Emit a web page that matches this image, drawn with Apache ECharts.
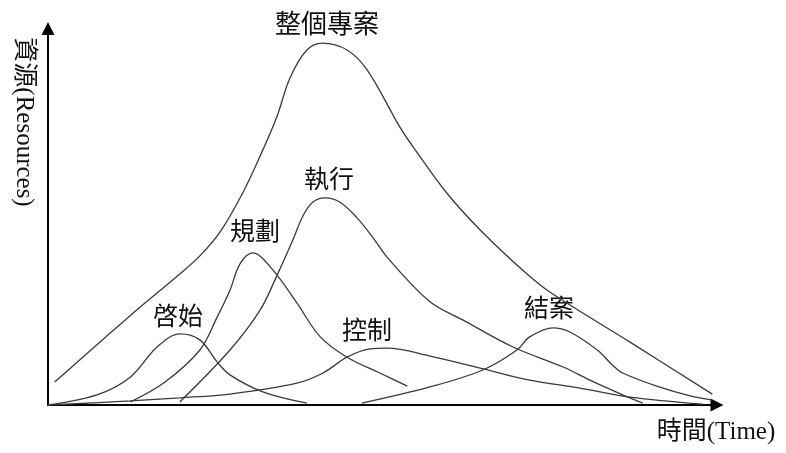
<!DOCTYPE html>
<html>
<head>
<meta charset="utf-8">
<script src="https://cdn.jsdelivr.net/npm/echarts@6/dist/echarts.min.js"></script>
<style>
html,body{margin:0;padding:0;background:#fff;}
#chart{width:786px;height:453px;}
</style>
</head>
<body>
<div id="chart"></div>
<script>
// Phase names (labels)
const phaseNames = ['整個專案', '啓始', '規劃', '執行', '控制', '結案'];
const axisTitleX = '時間(Time)';
const axisTitleY = '資源(Resources)';

// Time (0-100) and resource (0-100) readings for each curve
const overallTime = [1.0, 12.7, 19.7, 22.7, 25.7, 29.1, 32.1, 34.2, 36.2, 38.7, 41.0, 44.7, 47.7, 52.6, 54.6, 59.6, 64.6, 71.4, 75.0, 87.0, 99.3];
const overallRes  = [6.1, 24.4, 34.8, 39.6, 45.9, 56.3, 67.7, 76.5, 87.0, 94.3, 96.1, 94.3, 89.0, 73.8, 68.5, 56.3, 46.5, 35.1, 30.0, 16.7, 2.9];

const initTime = [0, 7.3, 12.3, 16.3, 19.7, 22.7, 25.3, 27.2, 32.1, 38.7];
const initRes  = [0, 2.7, 7.4, 15.4, 18.9, 17.3, 11.4, 8.0, 3.5, 0.5];

const planTime = [12.3, 17.5, 22.7, 25.3, 27.2, 28.7, 30.6, 33.6, 37.2, 40.7, 44.7, 49.6, 53.7];
const planRes  = [0.8, 6.1, 14.6, 23.4, 30.5, 37.5, 40.4, 35.9, 27.1, 18.1, 12.7, 8.5, 5.0];

const execTime = [19.7, 27.2, 31.7, 34.2, 36.6, 38.1, 39.6, 41.4, 43.6, 46.2, 48.6, 50.8, 57.1, 62.0, 69.5, 77.0, 81.0, 85.9, 88.9];
const execRes  = [0.8, 14.6, 25.2, 34.3, 43.8, 50.2, 53.9, 55.0, 53.9, 49.7, 44.4, 39.0, 27.4, 22.6, 15.4, 10.1, 6.6, 2.7, 0.5];

const ctrlTime = [0, 12.3, 19.7, 27.2, 37.2, 41.1, 44.7, 48.1, 50.7, 57.1, 64.6, 72.0, 79.5, 87.0, 97.9];
const ctrlRes  = [0, 1.1, 1.9, 2.9, 5.8, 8.5, 12.7, 14.9, 15.1, 13.0, 9.8, 6.6, 4.5, 2.1, 0.2];

const closeTime = [46.9, 57.1, 65.0, 70.1, 72.0, 75.5, 78.0, 82.1, 84.5, 85.9, 91.0, 96.0, 99.3];
const closeRes  = [0.5, 4.8, 9.3, 14.6, 18.1, 20.5, 19.4, 14.6, 10.4, 8.5, 5.0, 2.4, 1.3];

const curves = [
  [overallTime, overallRes],
  [initTime, initRes],
  [planTime, planRes],
  [execTime, execRes],
  [ctrlTime, ctrlRes],
  [closeTime, closeRes]
];

const zip = (xs, ys) => xs.map((x, i) => [x, ys[i]]);

const FONT = "'Liberation Serif', 'Noto Sans CJK TC', serif";
const labelPos = [
  [327, 26], [178, 318], [255, 233], [329, 181], [367, 332], [549, 310]
];

const chart = echarts.init(document.getElementById('chart'), null, {renderer: 'canvas'});
const option = {
  animation: false,
  backgroundColor: '#ffffff',
  grid: {left: 48, right: 69, top: 28.5, bottom: 48, containLabel: false},
  xAxis: {
    type: 'value', min: 0, max: 100,
    axisLine: {show: true, onZero: false, lineStyle: {color: '#000', width: 2},
      symbol: ['none', 'triangle'], symbolSize: [13, 13]},
    axisTick: {show: false}, axisLabel: {show: false}, splitLine: {show: false}
  },
  yAxis: {
    type: 'value', min: 0, max: 100,
    axisLine: {show: true, onZero: false, lineStyle: {color: '#000', width: 2},
      symbol: ['none', 'triangle'], symbolSize: [13, 13]},
    axisTick: {show: false}, axisLabel: {show: false}, splitLine: {show: false}
  },
  series: curves.map((c, i) => ({
    name: phaseNames[i],
    type: 'line',
    data: zip(c[0], c[1]),
    smooth: 0.35,
    showSymbol: false,
    clip: false,
    silent: true,
    lineStyle: {color: '#3a3a3a', width: 1.3}
  })),
  graphic: phaseNames.map((n, i) => ({
    type: 'text',
    x: labelPos[i][0], y: labelPos[i][1],
    style: {text: n, font: (i === 0 ? '26px ' : '25px ') + FONT, fill: '#111',
      align: 'center', verticalAlign: 'middle'}
  })).concat([
    {type: 'text', x: 716, y: 432,
      style: {text: axisTitleX, font: '25px ' + FONT, fill: '#111', align: 'center', verticalAlign: 'middle'}},
    {type: 'text', x: 24, y: 122, rotation: -Math.PI / 2,
      style: {text: axisTitleY, font: '25px ' + FONT, fill: '#111', align: 'center', verticalAlign: 'middle'}}
  ])
};
chart.setOption(option);
</script>
</body>
</html>
